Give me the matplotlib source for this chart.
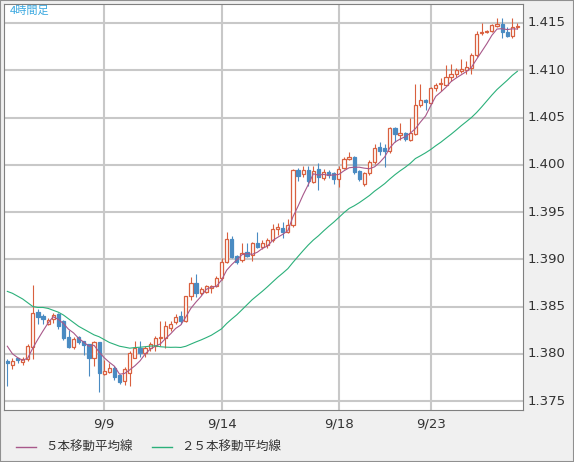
import numpy as np
import matplotlib
matplotlib.use("Agg")
import matplotlib.pyplot as plt

plt.rcParams['font.family'] = ['Noto Sans CJK JP', 'DejaVu Sans']

opens = [1.3792,1.3788,1.3795,1.3791,1.3794,1.3807,1.3844,1.3840,1.3832,1.3837,
         1.3842,1.3835,1.3818,1.3807,1.3818,1.3813,1.3810,1.3796,1.3812,1.3779,
         1.3781,1.3785,1.3778,1.3771,1.3780,1.3795,1.3806,1.3801,1.3806,1.3808,
         1.3817,1.3817,1.3827,1.3834,1.3840,1.3835,1.3861,1.3875,1.3864,1.3865,
         1.3870,1.3872,1.3880,1.3897,1.3921,1.3903,1.3899,1.3908,1.3904,1.3917,
         1.3913,1.3915,1.3920,1.3932,1.3933,1.3929,1.3936,1.3994,1.3990,1.3994,
         1.3982,1.3995,1.3986,1.3992,1.3991,1.3985,1.3997,1.4006,1.4008,1.3993,
         1.3980,1.3991,1.4003,1.4019,1.4018,1.4015,1.4039,1.4032,1.4034,1.4026,
         1.4033,1.4063,1.4069,1.4065,1.4081,1.4085,1.4084,1.4093,1.4096,1.4099,
         1.4100,1.4102,1.4116,1.4139,1.4140,1.4142,1.4147,1.4149,1.4141,1.4136,1.4146]
closes = [1.3790,1.3792,1.3793,1.3794,1.3808,1.3843,1.3839,1.3837,1.3836,1.3841,
          1.3829,1.3817,1.3807,1.3816,1.3812,1.3809,1.3796,1.3812,1.3780,1.3782,
          1.3785,1.3775,1.3770,1.3784,1.3801,1.3806,1.3801,1.3806,1.3810,1.3817,
          1.3818,1.3829,1.3831,1.3839,1.3835,1.3861,1.3875,1.3864,1.3869,1.3872,
          1.3872,1.3880,1.3897,1.3921,1.3902,1.3897,1.3907,1.3903,1.3917,1.3913,
          1.3917,1.3920,1.3932,1.3934,1.3929,1.3936,1.3994,1.3988,1.3994,1.3983,
          1.3993,1.3987,1.3992,1.3989,1.3985,1.3996,1.4006,1.4008,1.3992,1.3985,
          1.3991,1.4003,1.4018,1.4015,1.4015,1.4039,1.4033,1.4034,1.4027,1.4034,
          1.4063,1.4068,1.4066,1.4081,1.4084,1.4086,1.4093,1.4096,1.4100,1.4101,
          1.4103,1.4116,1.4138,1.4141,1.4142,1.4148,1.4149,1.4140,1.4136,1.4146,1.4147]
highs = [1.3794,1.3795,1.3796,1.3797,1.3810,1.3873,1.3847,1.3842,1.3838,1.3843,
         1.3843,1.3836,1.3825,1.3818,1.3819,1.3814,1.3810,1.3814,1.3812,1.3793,
         1.3790,1.3787,1.3779,1.3786,1.3803,1.3814,1.3813,1.3808,1.3812,1.3819,
         1.3835,1.3835,1.3835,1.3842,1.3845,1.3861,1.3881,1.3884,1.3871,1.3873,
         1.3873,1.3882,1.3901,1.3929,1.3925,1.3905,1.3917,1.3917,1.3918,1.3929,
         1.3920,1.3923,1.3937,1.3938,1.3939,1.3943,1.3995,1.3997,1.3999,1.3999,
         1.3999,1.4002,1.3995,1.3994,1.3992,1.3999,1.4008,1.4014,1.4009,1.3994,
         1.3992,1.4005,1.4022,1.4024,1.4022,1.4040,1.4040,1.4044,1.4035,1.4050,
         1.4085,1.4085,1.4070,1.4082,1.4087,1.4092,1.4106,1.4107,1.4102,1.4112,
         1.4110,1.4118,1.4142,1.4150,1.4143,1.4149,1.4155,1.4155,1.4146,1.4155,1.4150]
lows = [1.3766,1.3784,1.3790,1.3788,1.3792,1.3794,1.3832,1.3832,1.3830,1.3833,
        1.3826,1.3815,1.3806,1.3805,1.3810,1.3799,1.3777,1.3787,1.3760,1.3778,
        1.3780,1.3772,1.3768,1.3767,1.3766,1.3795,1.3797,1.3797,1.3803,1.3803,
        1.3808,1.3806,1.3824,1.3832,1.3832,1.3834,1.3857,1.3860,1.3862,1.3864,
        1.3864,1.3871,1.3878,1.3896,1.3901,1.3895,1.3897,1.3902,1.3898,1.3912,
        1.3911,1.3912,1.3918,1.3926,1.3922,1.3928,1.3934,1.3983,1.3987,1.3978,
        1.3981,1.3973,1.3984,1.3986,1.3980,1.3976,1.3995,1.4005,1.3990,1.3983,
        1.3978,1.3989,1.4001,1.4010,1.3998,1.4012,1.4024,1.4026,1.4025,1.4025,
        1.4032,1.4061,1.4058,1.4064,1.4078,1.4078,1.4085,1.4089,1.4093,1.4097,
        1.4096,1.4096,1.4114,1.4137,1.4139,1.4141,1.4146,1.4134,1.4135,1.4134,1.4144]
ma5_head = [1.3808, 1.3800, 1.3796, 1.3793]
ma25_head = [1.3866,1.3864,1.3861,1.3858,1.3854,1.3850,1.3849,1.3849,1.3848,1.3846,
             1.3844,1.3841,1.3837,1.3833,1.3829,1.3826,1.3823,1.3820,1.3818,1.3815,
             1.3812,1.3810,1.3808,1.3807]
tick_idx = [19, 42, 65, 83]
tick_labels = ['9/9', '9/14', '9/18', '9/23']
yticks = [1.375, 1.380, 1.385, 1.390, 1.395, 1.400, 1.405, 1.410, 1.415]

o = np.array(opens); c = np.array(closes); h = np.array(highs); l = np.array(lows)
n = len(c)
x = np.arange(n)
ma5 = np.array(ma5_head + [c[i-4:i+1].mean() for i in range(4, n)])
ma25 = np.array(ma25_head + [c[i-24:i+1].mean() for i in range(24, n)])

W, H = 574, 462
fig = plt.figure(figsize=(W/100, H/100), dpi=100, facecolor='#f0f0f0')
ax = fig.add_axes([4/W, 1-410/H, 519/W, 406/H])
ax.set_facecolor('white')
ax.set_xlim(-0.65, 101.1)
ax.set_ylim(1.37405, 1.41701)

for t in tick_idx:
    ax.axvline(t, color='#c8c8c8', lw=1.5, zorder=0)
for yv in yticks:
    ax.axhline(yv, color='#c8c8c8', lw=1.5, zorder=0)

up_c = '#d9603f'; dn_c = '#4a8bc2'
bw = 0.62
for i in range(n):
    up = c[i] >= o[i]
    col = up_c if up else dn_c
    ax.vlines(x[i], l[i], h[i], color=col, lw=0.8, zorder=2)
    bot = min(o[i], c[i]); ht = max(abs(c[i]-o[i]), 0.00005)
    if up:
        ax.bar(x[i], ht, bw, bot, facecolor='white', edgecolor=col, lw=0.9, zorder=3)
    else:
        ax.bar(x[i], ht, bw, bot, facecolor=col, edgecolor=col, lw=0.9, zorder=3)

ax.plot(x, ma5, color='#a8588a', lw=0.8, zorder=4)
ax.plot(x, ma25, color='#2bb07a', lw=0.8, zorder=4)

ax.set_xticks([]); ax.set_yticks([])
for s in ax.spines.values():
    s.set_color('#808080')

for yv in yticks:
    ax.text(1.008, (yv-1.37405)/(1.41701-1.37405), f'{yv:.3f}', transform=ax.transAxes,
            ha='left', va='center', fontsize=9.5, color='#333333', family=['DejaVu Sans'])
for t, lab in zip(tick_idx, tick_labels):
    ax.text(t, -0.035, lab, transform=ax.get_xaxis_transform(), ha='center', va='center',
            fontsize=9.5, color='#333333', family=['DejaVu Sans'])

ax.text(0.012, 0.995, '4時間足', transform=ax.transAxes, ha='left', va='top',
        fontsize=8, color='#3aa8e0')

fig.lines.append(plt.Line2D([16/W, 36/W], [1-447/H]*2, color='#a8588a', lw=1, transform=fig.transFigure))
fig.text(45/W, 1-447/H, '５本移動平均線', ha='left', va='center', fontsize=9, color='#333333')
fig.lines.append(plt.Line2D([152/W, 172/W], [1-447/H]*2, color='#2bb07a', lw=1, transform=fig.transFigure))
fig.text(181/W, 1-447/H, '２５本移動平均線', ha='left', va='center', fontsize=9, color='#333333')

fig.patches.append(plt.Rectangle((0, 0), 1, 1, transform=fig.transFigure, fill=False,
                                 edgecolor='#909090', lw=1.5))
fig.savefig('out.png', dpi=100, facecolor=fig.get_facecolor())
